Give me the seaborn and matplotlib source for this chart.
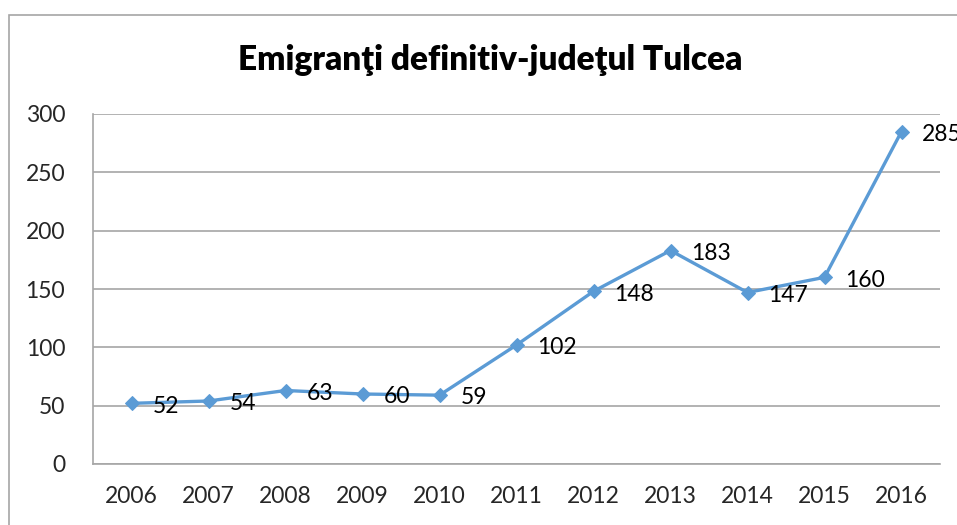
import matplotlib
matplotlib.use("Agg")
import matplotlib.pyplot as plt
import seaborn as sns
import pandas as pd
from matplotlib.patches import Rectangle

years = ["2006", "2007", "2008", "2009", "2010", "2011", "2012", "2013", "2014", "2015", "2016"]
values = [52, 54, 63, 60, 59, 102, 148, 183, 147, 160, 285]
yticks = [0, 50, 100, 150, 200, 250, 300]
title = "Emigranţi definitiv-judeţul Tulcea"

sns.set_theme(style="white")
plt.rcParams['font.family'] = ['Lato', 'DejaVu Sans']

W, H = 957, 525
fig = plt.figure(figsize=(W / 100, H / 100), dpi=100)
ax = fig.add_axes([93 / W, 1 - 464 / H, (940 - 93) / W, (464 - 114) / H])

df = pd.DataFrame({"year": years, "value": values})
df["pos"] = range(len(years))
sns.lineplot(data=df, x="pos", y="value", ax=ax, color="#5B9BD5", linewidth=2.4,
             marker="D", markersize=7, markeredgecolor="#5B9BD5", sort=False)

for p, v in zip(df["pos"], df["value"]):
    ax.annotate(str(v), (p, v), xytext=(15, -2), textcoords="offset points",
                ha="left", va="center", fontsize=16.5, color="black", annotation_clip=False)

ax.set_xlim(-0.5, len(years) - 0.5)
ax.set_ylim(0, 300)
ax.set_yticks(yticks)
ax.set_yticklabels([str(t) for t in yticks], fontsize=16.5)
ax.set_xticks(range(len(years)))
ax.set_xticklabels(years, fontsize=16.5)
ax.tick_params(axis="y", length=0, pad=20)
ax.tick_params(axis="x", length=0, pad=16)
ax.set_xlabel("")
ax.set_ylabel("")
ax.grid(axis="y", color="#a6a6a6", linewidth=1.2)
ax.grid(axis="x", visible=False)
for s in ["top", "right"]:
    ax.spines[s].set_visible(False)
for s in ["left", "bottom"]:
    ax.spines[s].set_color("#a6a6a6")
    ax.spines[s].set_linewidth(1.2)

fig.text(490 / W, 1 - 60 / H, title, ha="center", va="center", fontsize=24, fontweight="heavy",
         color="black")

fig.patches.append(Rectangle((9 / W, -0.1), 1.2, 1 - 15 / H + 0.1, transform=fig.transFigure,
                             fill=False, edgecolor="#a6a6a6", linewidth=1.2, zorder=0))

fig.savefig("out.png", dpi=100)
